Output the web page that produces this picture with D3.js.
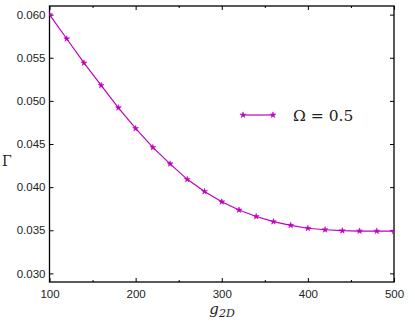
<!DOCTYPE html>
<html>
<head>
<meta charset="utf-8">
<script src="https://cdn.jsdelivr.net/npm/d3@7"></script>
<style>
  body { margin: 0; background: #fff; }
  svg { display: block; font-family: 'DejaVu Serif', 'Liberation Serif', serif; }
  .tick text { font-size: 11.5px; fill: #222; }
</style>
</head>
<body>
<svg width="415" height="323"></svg>
<script>
const gValues = [100, 120, 140, 160, 180, 200, 220, 240, 260, 280, 300, 320, 340, 360, 380, 400, 420, 440, 460, 480, 500];
const gammaValues = [0.0600, 0.0572, 0.0544, 0.0518, 0.0492, 0.0468, 0.0446, 0.0427, 0.0409, 0.0395, 0.0383, 0.03735, 0.0366, 0.0360, 0.03557, 0.03523, 0.03506, 0.03495, 0.03491, 0.0349, 0.0349];
const xTicks = [100, 200, 300, 400, 500];
const xMinorTicks = [150, 250, 350, 450];
const yTicks = [0.030, 0.035, 0.040, 0.045, 0.050, 0.055, 0.060];
const seriesLabel = 'Ω = 0.5';

const data = gValues.map((g, i) => ({ g, v: gammaValues[i] }));
const color = '#bf00bf';

const margin = { top: 6, right: 21, bottom: 41, left: 49.5 };
const width = 415, height = 323;
const w = width - margin.left - margin.right;
const h = height - margin.top - margin.bottom;

const svg = d3.select('svg');
const graph = svg.append('g').attr('transform', `translate(${margin.left}, ${margin.top})`);

const x = d3.scaleLinear().domain([100, 500]).range([0, w]);
const y = d3.scaleLinear().domain([0.029, 0.061]).range([h, 0]);

svg.append('defs').append('clipPath').attr('id', 'clip')
  .append('rect').attr('width', w).attr('height', h);

const fmt = d3.format('.3f');

// bottom / left axes, ticks point inward
graph.append('g')
  .attr('transform', `translate(0, ${h})`)
  .call(d3.axisBottom(x).tickValues(xTicks).tickSizeInner(-4).tickSizeOuter(0).tickPadding(8).tickFormat(d3.format('d')));
graph.append('g')
  .attr('transform', `translate(0, ${h})`)
  .call(d3.axisBottom(x).tickValues(xMinorTicks).tickSizeInner(-2).tickSizeOuter(0).tickFormat(''));
graph.append('g')
  .call(d3.axisLeft(y).tickValues(yTicks).tickSizeInner(-4).tickSizeOuter(0).tickPadding(4).tickFormat(fmt));

// mirrored ticks on top / right
graph.append('g')
  .call(d3.axisTop(x).tickValues(xTicks).tickSizeInner(-4).tickSizeOuter(0).tickFormat(''));
graph.append('g')
  .call(d3.axisTop(x).tickValues(xMinorTicks).tickSizeInner(-2).tickSizeOuter(0).tickFormat(''));
graph.append('g')
  .attr('transform', `translate(${w}, 0)`)
  .call(d3.axisRight(y).tickValues(yTicks).tickSizeInner(-4).tickSizeOuter(0).tickFormat(''));

graph.selectAll('.domain').remove();
graph.selectAll('.tick line').attr('stroke', '#000').attr('stroke-width', 1);

graph.append('rect')
  .attr('width', w).attr('height', h)
  .attr('fill', 'none').attr('stroke', '#000').attr('stroke-width', 1.3);

// series
const line = d3.line().x(d => x(d.g)).y(d => y(d.v));
const plot = graph.append('g').attr('clip-path', 'url(#clip)');
plot.append('path')
  .datum(data)
  .attr('d', line)
  .attr('fill', 'none')
  .attr('stroke', color)
  .attr('stroke-width', 1.2);

const star = d3.symbol().type(d3.symbolStar).size(11);
plot.selectAll('.pt')
  .data(data)
  .enter()
  .append('path')
  .attr('class', 'pt')
  .attr('d', star)
  .attr('transform', d => `translate(${x(d.g)}, ${y(d.v)})`)
  .attr('fill', color)
  .attr('stroke', color)
  .attr('stroke-width', 0.5);

// legend
const legend = graph.append('g').attr('transform', `translate(${243 - margin.left}, ${115 - margin.top})`);
legend.append('line').attr('x1', 0).attr('x2', 30).attr('y1', 0).attr('y2', 0)
  .attr('stroke', color).attr('stroke-width', 1.2);
legend.selectAll('.lm').data([0, 30]).enter().append('path')
  .attr('d', star).attr('transform', d => `translate(${d}, 0)`)
  .attr('fill', color).attr('stroke', color).attr('stroke-width', 0.5);
legend.append('text')
  .attr('x', 50).attr('y', 6)
  .attr('font-size', 15.5)
  .attr('fill', '#222')
  .text(seriesLabel);

// axis labels
const xl = svg.append('text')
  .attr('x', 222).attr('y', 314)
  .attr('text-anchor', 'middle')
  .attr('fill', '#222');
xl.append('tspan').attr('font-style', 'italic').attr('font-size', 15).text('g');
xl.append('tspan').attr('font-style', 'italic').attr('font-size', 11).attr('dy', 3).text('2D');

svg.append('text')
  .attr('x', 2).attr('y', 166)
  .attr('font-size', 14)
  .attr('fill', '#222')
  .text('Γ');
</script>
</body>
</html>
